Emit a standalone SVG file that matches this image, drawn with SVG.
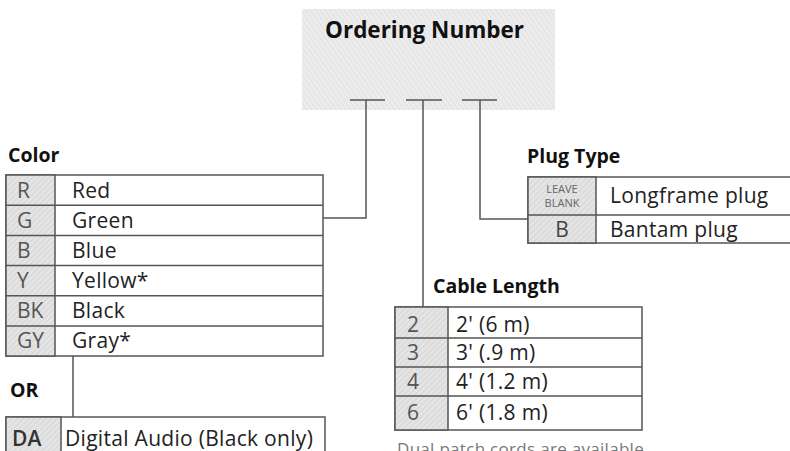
<svg xmlns="http://www.w3.org/2000/svg" width="790" height="451" viewBox="0 0 790 451">
<defs>
<pattern id="hatch" width="4" height="4" patternUnits="userSpaceOnUse" patternTransform="rotate(45)">
<rect width="4" height="4" fill="#e4e4e4"/>
<line x1="0" y1="0" x2="0" y2="4" stroke="#d2d2d2" stroke-width="1.5"/>
</pattern>
<pattern id="hatch2" width="4" height="4" patternUnits="userSpaceOnUse" patternTransform="rotate(-35)">
<rect width="4" height="4" fill="#ececec"/>
<line x1="0" y1="0" x2="0" y2="4" stroke="#dedede" stroke-width="1.5"/>
</pattern>
</defs>
<style>
.t{font-family:"Open Sans","Noto Sans",sans-serif;font-size:21px;fill:#222;letter-spacing:0.3px}
.c{font-family:"Open Sans","Noto Sans",sans-serif;font-size:21px;fill:#555}
.h{font-family:"Open Sans","Noto Sans",sans-serif;font-size:19.5px;font-weight:bold;fill:#111}
.s{font-family:"Open Sans","Noto Sans",sans-serif;font-size:11px;fill:#666}
.box{fill:#fff;stroke:#555;stroke-width:1.5}
.code{fill:url(#hatch);stroke:#555;stroke-width:1.5}
.ln{fill:none;stroke:#555;stroke-width:1.5}
</style>
<rect width="790" height="451" fill="#fff"/>

<g id="ordering-number">
<rect x="302" y="9" width="253" height="101" fill="url(#hatch2)"/>
<text class="h" x="325" y="38" style="font-size:22.5px">Ordering Number</text>
<line class="ln" x1="350" y1="100" x2="385" y2="100"/>
<line class="ln" x1="406" y1="100" x2="442" y2="100"/>
<line class="ln" x1="462" y1="100" x2="497" y2="100"/>
</g>

<g id="connectors">
<path class="ln" d="M366,100 V218 H323"/>
<path class="ln" d="M423,100 V306"/>
<path class="ln" d="M480,100 V219 H528"/>
<path class="ln" d="M73,356 V417"/>
</g>

<g id="color-table">
<text class="h" x="8" y="162">Color</text>
<rect class="box" x="6" y="175" width="317" height="181"/>
<rect class="code" x="6" y="175" width="49" height="181"/>
<path class="ln" d="M6,205.2 H323 M6,235.4 H323 M6,265.6 H323 M6,295.8 H323 M6,326 H323"/>
<text class="c" x="17" y="198">R</text><text class="t" x="72" y="198">Red</text>
<text class="c" x="17" y="228">G</text><text class="t" x="72" y="228">Green</text>
<text class="c" x="17" y="258">B</text><text class="t" x="72" y="258">Blue</text>
<text class="c" x="17" y="288">Y</text><text class="t" x="72" y="288">Yellow*</text>
<text class="c" x="17" y="318">BK</text><text class="t" x="72" y="318">Black</text>
<text class="c" x="17" y="348">GY</text><text class="t" x="72" y="348">Gray*</text>
</g>

<g id="or-label">
<text class="h" x="10" y="397">OR</text>
</g>

<g id="da-table">
<rect class="box" x="6" y="417" width="319" height="50"/>
<rect class="code" x="6" y="417" width="55" height="50"/>
<text class="c" x="12" y="446" style="fill:#333;font-weight:600">DA</text>
<text class="t" x="65" y="446">Digital Audio (Black only)</text>
</g>

<g id="plug-table">
<text class="h" x="527" y="163">Plug Type</text>
<rect class="box" x="528" y="177" width="264" height="66"/>
<rect class="code" x="528" y="177" width="68" height="66"/>
<line class="ln" x1="528" y1="215" x2="792" y2="215"/>
<text class="s" x="562" y="193" text-anchor="middle">LEAVE</text>
<text class="s" x="562" y="207" text-anchor="middle">BLANK</text>
<text class="c" x="562" y="237" text-anchor="middle" style="fill:#444">B</text>
<text class="t" x="610" y="203">Longframe plug</text>
<text class="t" x="610" y="237">Bantam plug</text>
</g>

<g id="cable-table">
<text class="h" x="433" y="293">Cable Length</text>
<rect class="box" x="395" y="307" width="247" height="123"/>
<rect class="code" x="395" y="307" width="53" height="123"/>
<path class="ln" d="M395,338 H642 M395,367 H642 M395,396 H642"/>
<text class="c" x="407" y="332">2</text><text class="t" x="456" y="332">2' (6 m)</text>
<text class="c" x="407" y="360">3</text><text class="t" x="456" y="360">3' (.9 m)</text>
<text class="c" x="407" y="389">4</text><text class="t" x="456" y="389">4' (1.2 m)</text>
<text class="c" x="407" y="420">6</text><text class="t" x="456" y="420">6' (1.8 m)</text>
</g>

<g id="footnote">
<text class="t" x="397" y="455" style="fill:#777;font-size:17px">Dual patch cords are available</text>
</g>
</svg>
